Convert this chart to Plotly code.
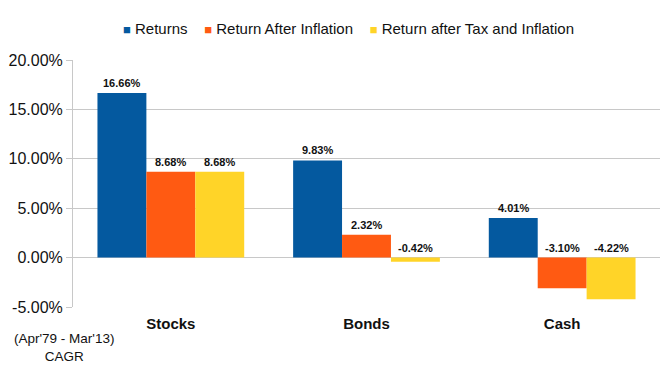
import plotly.graph_objects as go

categories = ["Stocks", "Bonds", "Cash"]
series_names = ["Returns", "Return After Inflation", "Return after Tax and Inflation"]
returns = [16.66, 9.83, 4.01]
after_inflation = [8.68, 2.32, -3.10]
after_tax_inflation = [8.68, -0.42, -4.22]
tick_vals = [-5, 0, 5, 10, 15, 20]

colors = ["#04599f", "#ff5a12", "#ffd428"]
all_series = [returns, after_inflation, after_tax_inflation]

fig = go.Figure()
for name, vals, col in zip(series_names, all_series, colors):
    fig.add_trace(go.Bar(
        x=categories, y=vals, name=name, marker_color=col,
        marker_line_width=0, offsetgroup=name, showlegend=False,
    ))

# value labels, always placed above the bar top or the zero line
n = len(all_series)
for i, (name, vals) in enumerate(zip(series_names, all_series)):
    for j, v in enumerate(vals):
        fig.add_annotation(
            x=j + (i - (n - 1) / 2) * 0.25, y=max(v, 0), xref="x", yref="y",
            text=f"<b>{v:.2f}%</b>", showarrow=False, yanchor="bottom",
            yshift=2, font=dict(size=11, color="#111111", family="Arial"),
        )

# page body has an 8px margin: figure is 662x369 so it fills the 670x377 window
W, H = 662, 369
L, R, T, B = 65, 10, 52, 70
pw, ph = W - L - R, H - T - B

# custom legend (small squares close to the text, like the original)
legend_text = "    ".join(
    f'<span style="color:{c}; font-size:13px">■</span> {nm}'
    for nm, c in zip(series_names, colors)
)
fig.add_annotation(
    xref="paper", yref="paper", x=(348 - 73) / pw, y=1 + (60 - 28) / ph,
    text=legend_text, showarrow=False, xanchor="center", yanchor="middle",
    font=dict(size=15, color="#111111", family="Arial"),
)

fig.add_annotation(
    text="(Apr'79 - Mar'13)<br>CAGR", showarrow=False,
    xref="paper", yref="paper", x=(64 - 73) / pw, y=-(329 - 307) / ph,
    xanchor="center", yanchor="top",
    font=dict(size=13.5, color="#111111", family="Arial"),
)

fig.update_layout(
    width=W, height=H,
    margin=dict(l=L, r=R, t=T, b=B, autoexpand=False),
    paper_bgcolor="white", plot_bgcolor="white",
    barmode="group", bargap=0.25, bargroupgap=0,
    font=dict(family="Arial", size=14, color="#111111"),
    showlegend=False,
)
fig.update_xaxes(
    type="category", showgrid=False, showline=False, ticks="",
    tickvals=categories, ticktext=[f"<b>{c}</b>" for c in categories],
    tickfont=dict(size=15, family="Arial", color="#111111"),
    automargin=False, ticklabelstandoff=6,
)
fig.update_yaxes(
    range=[-5, 20], tickvals=tick_vals, ticktext=[f"{v:.2f}%" for v in tick_vals],
    showgrid=True, gridcolor="#c8c8c8", gridwidth=1,
    showline=True, linecolor="#c8c8c8", linewidth=1,
    ticks="outside", ticklen=6, tickcolor="#c8c8c8",
    tickfont=dict(size=16, family="Arial", color="#111111"),
    zeroline=False, automargin=False,
)

fig.write_html("out.html")
